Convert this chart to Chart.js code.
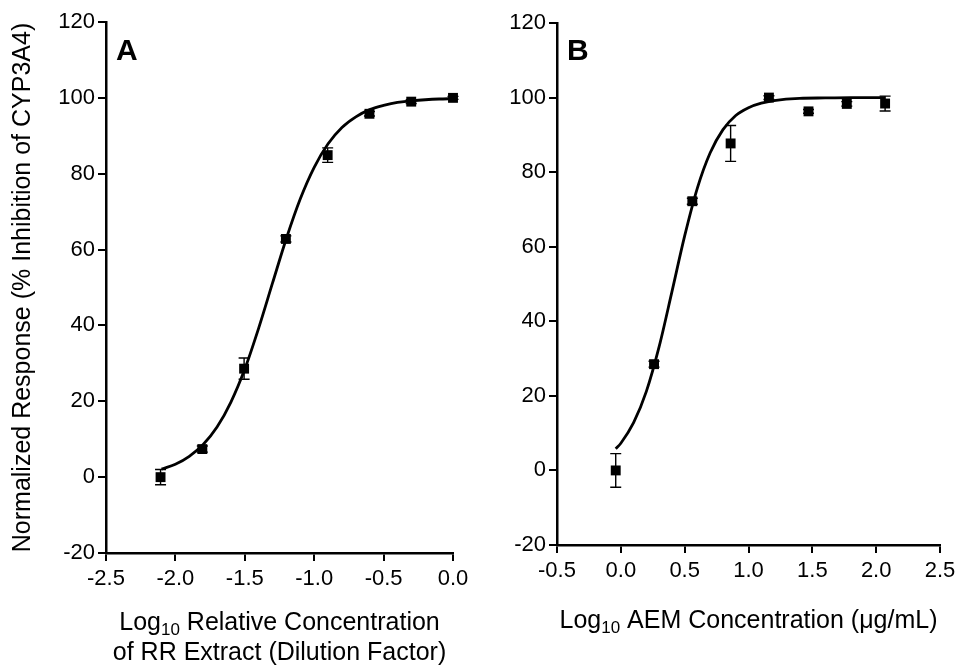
<!DOCTYPE html>
<html><head><meta charset="utf-8">
<script src="https://cdn.jsdelivr.net/npm/chart.js@4.4.1/dist/chart.umd.min.js"></script>
<style>
html,body{margin:0;padding:0;background:#fff;}
#wrapA{position:absolute;left:0;top:0;width:478px;height:666px;}
#wrapB{position:absolute;left:478px;top:0;width:479px;height:666px;}
</style></head><body>
<div id="wrapA"><canvas id="cA" width="478" height="666"></canvas></div>
<div id="wrapB"><canvas id="cB" width="479" height="666"></canvas></div>
<script>
// ---- Panel A data ----
const xA = [-2.107, -1.806, -1.505, -1.204, -0.903, -0.602, -0.301, 0.0];
const yA = [0.0, 7.4, 28.6, 62.8, 84.9, 95.8, 99.0, 100.0];
const errA = [2.0, 0.8, 2.8, 0.8, 1.9, 0.6, 0.5, 0.4];
const curveXA = [-2.1, -2.0, -1.9, -1.8, -1.7, -1.6, -1.5, -1.4, -1.3, -1.2, -1.1, -1.0, -0.9, -0.8, -0.7, -0.6, -0.5, -0.4, -0.3, -0.2, -0.1, 0.0];
const curveYA = [2.1, 3.4, 5.5, 8.6, 13.2, 19.8, 28.5, 39.3, 51.2, 63.0, 73.4, 81.7, 87.9, 92.2, 95.0, 96.9, 98.0, 98.8, 99.2, 99.5, 99.7, 99.8];
const xTicksA = [-2.5, -2.0, -1.5, -1.0, -0.5, 0.0];

// ---- Panel B data ----
const xB = [-0.04, 0.26, 0.56, 0.86, 1.16, 1.47, 1.77, 2.07];
const yB = [0.0, 28.5, 72.2, 87.7, 100.0, 96.3, 98.3, 98.4];
const errB = [4.5, 0.8, 0.8, 4.8, 0.5, 0.5, 0.6, 2.0];
const curveXB = [-0.04, 0.0, 0.1, 0.2, 0.3, 0.4, 0.5, 0.6, 0.7, 0.8, 0.9, 1.0, 1.1, 1.2, 1.4, 1.6, 1.8, 2.07];
const curveYB = [5.8, 7.3, 12.8, 21.2, 33.2, 47.9, 62.9, 75.8, 85.2, 91.4, 95.2, 97.3, 98.5, 99.2, 99.8, 99.9, 100.0, 100.0];
const xTicksB = [-0.5, 0.0, 0.5, 1.0, 1.5, 2.0, 2.5];

const yTicks = [-20, 0, 20, 40, 60, 80, 100, 120];

const FONT = '"Liberation Sans", Arial, Helvetica, sans-serif';
Chart.defaults.font.family = FONT;
Chart.defaults.color = '#000';

function errorBars(xs, ys, errs) {
  return {
    id: 'errbars',
    afterDatasetsDraw(chart) {
      const {ctx, scales: {x, y}} = chart;
      ctx.save();
      ctx.strokeStyle = '#000';
      ctx.lineWidth = 1.4;
      xs.forEach((xv, i) => {
        const e = errs[i];
        const px = x.getPixelForValue(xv);
        const pt = y.getPixelForValue(ys[i] + e);
        const pb = y.getPixelForValue(ys[i] - e);
        ctx.beginPath();
        ctx.moveTo(px, pt); ctx.lineTo(px, pb);
        ctx.moveTo(px - 5.5, pt); ctx.lineTo(px + 5.5, pt);
        ctx.moveTo(px - 5.5, pb); ctx.lineTo(px + 5.5, pb);
        ctx.stroke();
      });
      ctx.restore();
    }
  };
}

function texts(letter, lines) {
  return {
    id: 'texts',
    afterDraw(chart) {
      const {ctx, chartArea} = chart;
      ctx.save();
      ctx.fillStyle = '#000';
      ctx.textBaseline = 'alphabetic';
      ctx.textAlign = 'left';
      ctx.font = 'bold 30px ' + FONT;
      ctx.fillText(letter, chartArea.left + 10, 60);
      const cx = (chartArea.left + chartArea.right) / 2;
      lines.forEach(line => {
        let total = 0;
        line.segs.forEach(s => {
          ctx.font = (s.sub ? '17px ' : '25px ') + FONT;
          s.w = ctx.measureText(s.t).width;
          total += s.w;
        });
        let x = cx - total / 2;
        line.segs.forEach(s => {
          ctx.font = (s.sub ? '17px ' : '25px ') + FONT;
          ctx.fillText(s.t, x, line.y + (s.sub ? 5 : 0));
          x += s.w;
        });
      });
      ctx.restore();
    }
  };
}

function makeChart(id, cfg) {
  const datasets = [
    {
      type: 'scatter', label: 'fit',
      data: cfg.cx.map((v, i) => ({x: v, y: cfg.cy[i]})),
      showLine: true, borderColor: '#000', borderWidth: 2.8,
      pointRadius: 0, cubicInterpolationMode: 'monotone', fill: false,
      order: 2, clip: false
    },
    {
      type: 'scatter', label: 'data',
      data: cfg.px.map((v, i) => ({x: v, y: cfg.py[i]})),
      pointStyle: 'rect', pointRadius: 7, backgroundColor: '#000',
      borderColor: '#000', borderWidth: 0, showLine: false,
      order: 1, clip: false
    }
  ];
  return new Chart(document.getElementById(id), {
    type: 'scatter',
    data: {datasets},
    options: {
      responsive: false, animation: false,
      layout: {padding: cfg.pad},
      plugins: {legend: {display: false}, tooltip: {enabled: false}},
      scales: {
        x: {
          type: 'linear', min: cfg.xTicks[0], max: cfg.xTicks[cfg.xTicks.length - 1],
          afterBuildTicks: s => { s.ticks = cfg.xTicks.map(v => ({value: v})); },
          afterFit: s => { s.height = cfg.xh; s.paddingLeft = 0; s.paddingRight = 0; },
          ticks: {font: {size: 22}, color: '#000', padding: 5, maxRotation: 0, autoSkip: false,
                  callback: v => Number(v).toFixed(1)},
          grid: {display: true, drawOnChartArea: false, drawTicks: true, tickLength: 8, color: '#000', lineWidth: 2},
          border: {display: true, color: '#000', width: 2.5}
        },
        y: {
          type: 'linear', min: -20, max: 120,
          afterBuildTicks: s => { s.ticks = yTicks.map(v => ({value: v})); },
          afterFit: s => { s.width = cfg.yw; s.paddingTop = 0; s.paddingBottom = 0; },
          ticks: {font: {size: 22}, color: '#000', padding: 3, autoSkip: false,
                  callback: v => String(v)},
          grid: {display: true, drawOnChartArea: false, drawTicks: true, tickLength: 8, color: '#000', lineWidth: 2},
          border: {display: true, color: '#000', width: 2.5},
          title: {display: !!cfg.ytitle, text: cfg.ytitle || '', color: '#000',
                  font: {size: 25}, padding: {top: 8, bottom: 0}}
        }
      }
    },
    plugins: [errorBars(cfg.px, cfg.py, cfg.err), texts(cfg.letter, cfg.lines)]
  });
}

makeChart('cA', {
  px: xA, py: yA, err: errA, cx: curveXA, cy: curveYA, xTicks: xTicksA,
  pad: {left: 0, top: 22, right: 25, bottom: 0}, xh: 113, yw: 106,
  ytitle: 'Normalized Response (% Inhibition of CYP3A4)', letter: 'A',
  lines: [
    {y: 630, segs: [{t: 'Log'}, {t: '10', sub: true}, {t: ' Relative Concentration'}]},
    {y: 660, segs: [{t: 'of RR Extract (Dilution Factor)'}]}
  ]
});

makeChart('cB', {
  px: xB, py: yB, err: errB, cx: curveXB, cy: curveYB, xTicks: xTicksB,
  pad: {left: 0, top: 23, right: 17, bottom: 0}, xh: 121, yw: 79,
  ytitle: null, letter: 'B',
  lines: [
    {y: 628, segs: [{t: 'Log'}, {t: '10', sub: true}, {t: ' AEM Concentration (\u03bcg/mL)'}]}
  ]
});
</script>
</body></html>
